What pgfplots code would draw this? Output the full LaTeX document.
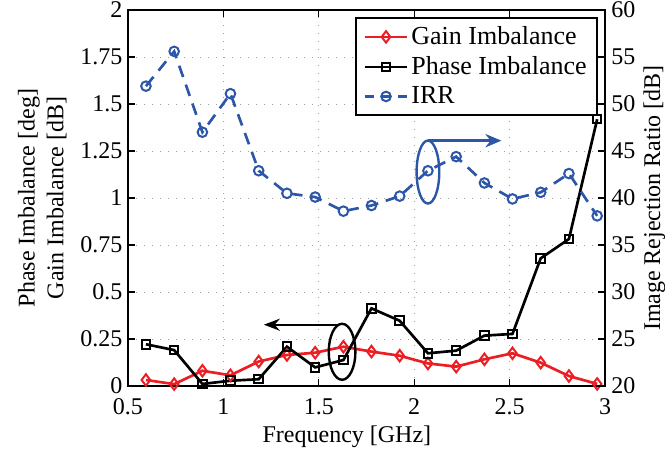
\documentclass[border=0pt]{standalone}
\usepackage{pgfplots}
\pgfplotsset{compat=1.18}
\usepackage{fontspec}
\setmainfont{Liberation Serif}
\usetikzlibrary{arrows.meta}
\definecolor{mred}{RGB}{235,30,35}
\definecolor{mblue}{RGB}{44,86,168}
\pgfplotsset{
 irrleg/.style={legend image code/.code={\draw[##1, dash pattern=on 7pt off 5pt on 8pt off 5pt on 7pt off 50pt] (0pt,0pt) -- (32pt,0pt); \draw[##1, solid] plot coordinates {(16pt,0pt)};}},
 stdleg/.style={legend image code/.code={\draw[mark repeat=2,mark phase=2,##1] plot coordinates {(0pt,0pt)(16pt,0pt)(32pt,0pt)};}},
}
\begin{document}
\begin{tikzpicture}
\pgfplotsset{
 every axis/.append style={
  scale only axis, width=357.75pt, height=282pt,
  xmin=0.5, xmax=3,
  font=\fontsize{18}{21.6}\selectfont,
  /pgf/number format/assume math mode=true,
  tick style={black, line width=0.8pt},
  major tick length=5pt,
  tick align=inside,
 },
}
\begin{axis}[
  axis line style={line width=1.6pt},
  ymin=0, ymax=2, ytick={0,0.25,0.5,0.75,1,1.25,1.5,1.75,2},
  xtick={0.5,1,1.5,2,2.5,3},
  grid=major, grid style={gray!75, line width=0.7pt, dash pattern=on 0.8pt off 5.2pt},
  ylabel={Phase Imbalance [deg]\\Gain Imbalance [dB]},
  ylabel style={align=center, at={(axis description cs:-0.128,0.5)}, anchor=south, inner sep=0pt},
  xlabel={Frequency [GHz]},
  xlabel style={at={(axis description cs:0.459,-0.149)}, anchor=base, inner sep=0pt},
  xticklabel style={inner sep=0pt, yshift=-9.5pt},
  yticklabel style={inner sep=0pt, xshift=-4pt},
]
\addplot[mred, line width=2pt, mark=diamond, mark size=4.3pt, mark options={solid, fill=white, line width=1.5pt}] coordinates {
(0.594,0.032) (0.742,0.010) (0.890,0.081) (1.037,0.057) (1.185,0.130) (1.333,0.165) (1.481,0.177) (1.629,0.209) (1.776,0.183) (1.924,0.161) (2.072,0.120) (2.220,0.103) (2.368,0.142) (2.515,0.174) (2.663,0.124) (2.811,0.053) (2.959,0.011)
};
\addplot[black, line width=2pt, mark=square, mark size=3.2pt, mark options={solid, fill=white, line width=1.5pt}] coordinates {
(0.594,0.222) (0.742,0.191) (0.890,0.011) (1.037,0.028) (1.185,0.036) (1.333,0.209) (1.481,0.099) (1.629,0.138) (1.776,0.413) (1.924,0.347) (2.072,0.174) (2.220,0.188) (2.368,0.268) (2.515,0.277) (2.663,0.679) (2.811,0.782) (2.959,1.419)
};
\draw[black, line width=1.8pt] (axis cs:1.622,0.182) ellipse [x radius=10pt, y radius=21pt];
\draw[black, line width=1.8pt, -{Stealth[length=12pt,width=9pt]}] (axis cs:1.60,0.326) -- (axis cs:1.212,0.326);
\draw[mblue, line width=1.8pt] (axis cs:2.072,1.138) ellipse [x radius=8.5pt, y radius=23.6pt];
\draw[mblue, line width=1.8pt, -{Stealth[length=12pt,width=10pt]}] (axis cs:2.072,1.305) -- (axis cs:2.457,1.305);
\coordinate (sw) at (rel axis cs:0,0);
\coordinate (ne) at (rel axis cs:1,1);
\end{axis}
\begin{axis}[
  axis x line=none, axis y line*=right,
  axis line style={line width=1.6pt},
  ymin=20, ymax=60, ytick={20,25,30,35,40,45,50,55,60},
  ylabel={Image Rejection Ratio [dB]},
  ylabel style={at={(axis description cs:1.08,0.5)}, anchor=north, inner sep=0pt},
  yticklabel style={inner sep=0pt, xshift=4.5pt},
  stdleg,
  legend style={at={(0.985,0.981)}, anchor=north east, draw=black, line width=1.6pt, fill=white,
    font=\fontsize{19.5}{23}\selectfont, cells={anchor=west}, inner xsep=5.5pt, inner ysep=4.5pt, row sep=3.5pt},
]
\addlegendimage{mred, line width=2pt, mark=diamond, mark size=4.3pt, mark options={solid, fill=white, line width=1.5pt}}
\addlegendentry{Gain Imbalance}
\addlegendimage{black, line width=2pt, mark=square, mark size=3.2pt, mark options={solid, fill=white, line width=1.5pt}}
\addlegendentry{Phase Imbalance}
\addplot[mblue, line width=2pt, dash pattern=on 9pt off 6pt, mark=o, mark size=3.6pt, mark options={solid, line width=1.5pt}, irrleg] coordinates {
(0.594,51.9) (0.742,55.6) (0.890,47.0) (1.037,51.1) (1.185,42.9) (1.333,40.5) (1.481,40.1) (1.629,38.6) (1.776,39.2) (1.924,40.2) (2.072,42.9) (2.220,44.4) (2.368,41.6) (2.515,39.9) (2.663,40.6) (2.811,42.6) (2.959,38.1)
};
\addlegendentry{IRR}
\end{axis}
\pgfresetboundingbox
\path ([xshift=-96pt,yshift=-48pt]sw) rectangle ([xshift=45pt,yshift=7.5pt]ne);
\end{tikzpicture}
\end{document}
